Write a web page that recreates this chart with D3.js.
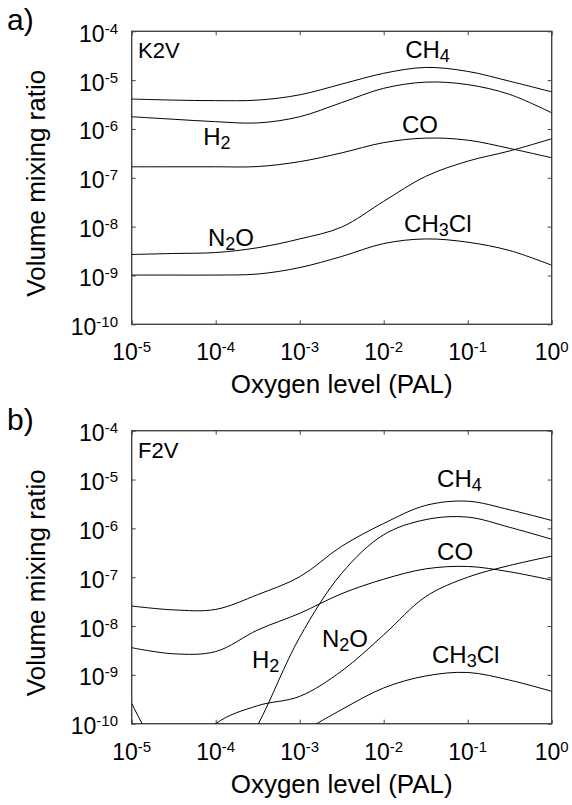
<!DOCTYPE html>
<html>
<head>
<meta charset="utf-8">
<script src="https://cdn.jsdelivr.net/npm/d3@7"></script>
<style>
  body { margin: 0; background: #fff; }
  text { font-family: "Liberation Sans", Arial, sans-serif; fill: #000; }
</style>
</head>
<body>
<svg id="chart" width="572" height="805"></svg>
<script>
// oxygen levels (PAL) at which the curves were read, half-decade steps
const o2Levels = [1e-5, 3.16e-5, 1e-4, 3.16e-4, 1e-3, 3.16e-3, 1e-2, 3.16e-2, 1e-1, 3.16e-1, 1]

// a) K2V star
const ch4K2V   = [4.1e-6, 3.9e-6, 3.8e-6, 3.9e-6, 5.0e-6, 8.3e-6, 1.38e-5, 1.82e-5, 1.51e-5, 9.5e-6, 5.75e-6]
const h2K2V    = [1.78e-6, 1.58e-6, 1.41e-6, 1.33e-6, 1.78e-6, 3.47e-6, 6.8e-6, 9.1e-6, 8.1e-6, 5.1e-6, 2.14e-6]
const coK2V    = [1.68e-7, 1.68e-7, 1.68e-7, 1.7e-7, 2.14e-7, 3.24e-7, 5.25e-7, 6.5e-7, 5.9e-7, 4.0e-7, 2.57e-7]
const n2oK2V   = [2.69e-9, 2.82e-9, 2.95e-9, 3.7e-9, 5.6e-9, 9.8e-9, 3.3e-8, 1.07e-7, 2.19e-7, 3.55e-7, 6.3e-7]
const ch3clK2V = [1.02e-9, 1.02e-9, 1.02e-9, 1.07e-9, 1.45e-9, 2.45e-9, 4.5e-9, 5.6e-9, 4.8e-9, 3.24e-9, 1.62e-9]

// b) F2V star (values below 1e-10 run off the axis and are clipped)
const ch4F2V   = [2.57e-8, 2.14e-8, 2.19e-8, 4.4e-8, 1.02e-7, 4.3e-7, 1.26e-6, 2.95e-6, 3.6e-6, 2.4e-6, 1.45e-6]
const h2F2V    = [2.6e-10, 1e-11, 3e-12, 9.3e-11, 5.9e-9, 1.2e-7, 7.4e-7, 1.51e-6, 1.7e-6, 1.05e-6, 6.0e-7]
const coF2V    = [3.6e-9, 2.7e-9, 3.0e-9, 8.3e-9, 1.82e-8, 4.6e-8, 9.1e-8, 1.48e-7, 1.66e-7, 1.29e-7, 8.7e-8]
const n2oF2V   = [null, 1e-11, 1e-10, 2.34e-10, 3.63e-10, 1.2e-9, 6.6e-9, 4.0e-8, 1.0e-7, 1.74e-7, 2.7e-7]
const ch3clF2V = [null, null, null, null, 6.3e-11, 1.95e-10, 5.4e-10, 9.5e-10, 1.12e-9, 7.8e-10, 4.6e-10]

const xTickExps = ['-5', '-4', '-3', '-2', '-1', '0']
const yTickExps = ['-4', '-5', '-6', '-7', '-8', '-9', '-10']

// curve labels: [main, subscript, rest], placed at (o2, ratio)
const labelsK2V = [
  { parts: ['CH', '4', ''], o2: 0.018, v: 2.8e-5 },
  { parts: ['H', '2', ''], o2: 7.1e-5, v: 4.7e-7 },
  { parts: ['CO', '', ''], o2: 0.0165, v: 8.3e-7 },
  { parts: ['N', '2', 'O'], o2: 8.1e-5, v: 4.0e-9 },
  { parts: ['CH', '3', 'Cl'], o2: 0.0175, v: 7.8e-9 }
]
const labelsF2V = [
  { parts: ['CH', '4', ''], o2: 0.0432, v: 6.9e-6 },
  { parts: ['CO', '', ''], o2: 0.0432, v: 2.25e-7 },
  { parts: ['H', '2', ''], o2: 2.7e-4, v: 1.4e-9 },
  { parts: ['N', '2', 'O'], o2: 1.84e-3, v: 3.7e-9 },
  { parts: ['CH', '3', 'Cl'], o2: 0.0376, v: 1.73e-9 }
]

const panels = [
  { letter: 'a)', star: 'K2V', top: 31.3, series: [ch4K2V, h2K2V, coK2V, n2oK2V, ch3clK2V], labels: labelsK2V },
  { letter: 'b)', star: 'F2V', top: 430.7, series: [ch4F2V, h2F2V, coF2V, n2oF2V, ch3clF2V], labels: labelsF2V }
]

const left = 131.7
const right = 551.7
const plotH = 293

const svg = d3.select('#chart')

const x = d3.scaleLog().domain([1e-5, 1]).range([left, right])

function addPower (text, exp) {
  text.append('tspan').text('10')
  text.append('tspan').attr('dy', -8).attr('font-size', 15).text(exp)
}

panels.forEach((p, i) => {
  const bottom = p.top + plotH
  const y = d3.scaleLog().domain([1e-10, 1e-4]).range([bottom, p.top])
  const g = svg.append('g')

  g.append('clipPath').attr('id', `clip-${i}`)
    .append('rect')
    .attr('x', left).attr('y', p.top)
    .attr('width', right - left).attr('height', plotH)

  // inward decade ticks on all four sides
  const tickOpts = a => a.tickValues(xTickExps.map(e => Math.pow(10, +e))).tickSizeInner(-4).tickSizeOuter(0).tickFormat('')
  const yTicks = a => a.tickValues(yTickExps.map(e => Math.pow(10, +e))).tickSizeInner(-4).tickSizeOuter(0).tickFormat('')
  g.append('g').attr('transform', `translate(0,${bottom})`).call(tickOpts(d3.axisBottom(x)))
  g.append('g').attr('transform', `translate(0,${p.top})`).call(tickOpts(d3.axisTop(x)))
  g.append('g').attr('transform', `translate(${left},0)`).call(yTicks(d3.axisLeft(y)))
  g.append('g').attr('transform', `translate(${right},0)`).call(yTicks(d3.axisRight(y)))
  g.selectAll('.domain').remove()
  g.selectAll('.tick line').attr('stroke', '#444').attr('stroke-width', 1)

  g.append('rect')
    .attr('x', left).attr('y', p.top)
    .attr('width', right - left).attr('height', plotH)
    .attr('fill', 'none').attr('stroke', '#444').attr('stroke-width', 1.4)

  // tick labels
  xTickExps.forEach(e => {
    const t = g.append('text')
      .attr('x', x(Math.pow(10, +e))).attr('y', bottom + 36)
      .attr('text-anchor', 'middle').attr('font-size', 23)
    addPower(t, e)
  })
  yTickExps.forEach(e => {
    const t = g.append('text')
      .attr('x', 118).attr('y', y(Math.pow(10, +e)) + 10.5)
      .attr('text-anchor', 'end').attr('font-size', 23)
    addPower(t, e)
  })

  // axis titles
  g.append('text')
    .attr('x', (left + right) / 2).attr('y', bottom + 69)
    .attr('text-anchor', 'middle').attr('font-size', 26)
    .text('Oxygen level (PAL)')
  g.append('text')
    .attr('transform', `translate(45,${p.top + 152}) rotate(-90)`)
    .attr('text-anchor', 'middle').attr('font-size', 26)
    .text('Volume mixing ratio')

  g.append('text').attr('x', 7).attr('y', p.top - 1).attr('font-size', 30).text(p.letter)
  g.append('text').attr('x', 138).attr('y', p.top + 27).attr('font-size', 22).text(p.star)

  // curves
  const line = d3.line()
    .defined(d => d[1] != null)
    .x(d => x(d[0]))
    .y(d => y(d[1]))
    .curve(d3.curveCatmullRom.alpha(0.5))

  g.append('g').attr('clip-path', `url(#clip-${i})`)
    .selectAll('path')
    .data(p.series)
    .join('path')
    .attr('d', s => line(o2Levels.map((o, k) => [o, s[k]])))
    .attr('fill', 'none')
    .attr('stroke', '#000')
    .attr('stroke-width', 1)

  // curve labels
  p.labels.forEach(l => {
    const t = g.append('text')
      .attr('x', x(l.o2)).attr('y', y(l.v))
      .attr('font-size', 24)
    t.append('tspan').text(l.parts[0])
    if (l.parts[1]) t.append('tspan').attr('dy', 4).attr('font-size', 18).text(l.parts[1])
    if (l.parts[2]) t.append('tspan').attr('dy', -4).text(l.parts[2])
  })
})
</script>
</body>
</html>
